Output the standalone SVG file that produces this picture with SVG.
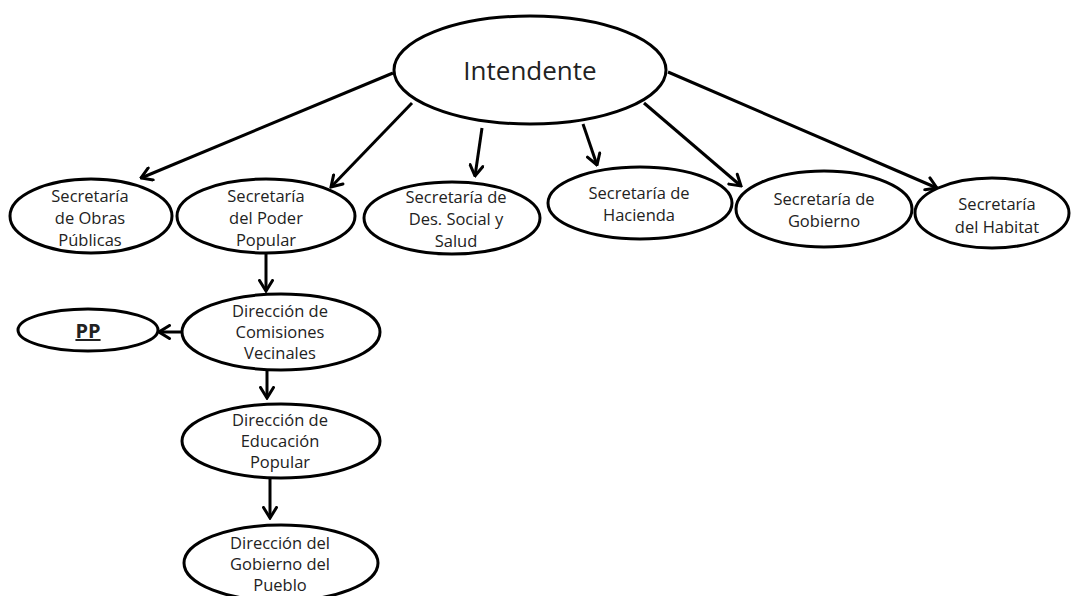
<svg xmlns="http://www.w3.org/2000/svg" width="1071" height="596" viewBox="0 0 1071 596">
<defs>
<style>
.n ellipse{fill:#fff;stroke:#000;stroke-width:3}
.n text{font-family:"Open Sans","Noto Sans",sans-serif;font-size:16.5px;fill:#222;text-anchor:middle}
.c line{stroke:#000;stroke-width:3;marker-end:url(#a)}
</style>
<marker id="a" viewBox="0 0 14 16" refX="12.5" refY="8" markerWidth="14" markerHeight="16" markerUnits="userSpaceOnUse" orient="auto">
<path d="M2,1.5 L12.5,8 L2,14.5" fill="none" stroke="#000" stroke-width="3" stroke-linecap="round" stroke-linejoin="miter"/>
</marker>
</defs>
<rect width="1071" height="596" fill="#fff"/>
<g class="c" id="connectors">
<line x1="393" y1="73" x2="141" y2="178"/>
<line x1="412" y1="103" x2="331" y2="187"/>
<line x1="482" y1="128" x2="475" y2="176"/>
<line x1="583" y1="124" x2="597" y2="165"/>
<line x1="644" y1="103" x2="741" y2="186"/>
<line x1="668" y1="72" x2="937" y2="188"/>
<line x1="266" y1="253" x2="266" y2="291"/>
<line x1="267" y1="370" x2="267" y2="398"/>
<line x1="270" y1="478" x2="270" y2="518"/>
<line x1="182" y1="332" x2="159" y2="332"/>
</g>
<g class="n" id="intendente">
<ellipse cx="530" cy="70" rx="136" ry="54"/>
<text x="530" y="80" style="font-size:26px">Intendente</text>
</g>
<g class="n" id="obras">
<ellipse cx="91" cy="216" rx="81" ry="37"/>
<text x="90" y="202">Secretaría</text>
<text x="90" y="224">de Obras</text>
<text x="90" y="246">Públicas</text>
</g>
<g class="n" id="poder">
<ellipse cx="266" cy="216" rx="89" ry="37"/>
<text x="266" y="202">Secretaría</text>
<text x="266" y="224">del Poder</text>
<text x="266" y="246">Popular</text>
</g>
<g class="n" id="social">
<ellipse cx="452" cy="218" rx="88" ry="36"/>
<text x="456" y="203">Secretaría de</text>
<text x="456" y="225">Des. Social y</text>
<text x="456" y="247">Salud</text>
</g>
<g class="n" id="hacienda">
<ellipse cx="640" cy="203" rx="92" ry="36"/>
<text x="639" y="199">Secretaría de</text>
<text x="639" y="221">Hacienda</text>
</g>
<g class="n" id="gobierno">
<ellipse cx="824" cy="209" rx="88" ry="38"/>
<text x="824" y="205">Secretaría de</text>
<text x="824" y="227">Gobierno</text>
</g>
<g class="n" id="habitat">
<ellipse cx="992" cy="213" rx="77" ry="35"/>
<text x="997" y="210">Secretaría</text>
<text x="997" y="233">del Habitat</text>
</g>
<g class="n" id="comisiones">
<ellipse cx="281" cy="332" rx="99" ry="38"/>
<text x="280" y="317">Dirección de</text>
<text x="280" y="338">Comisiones</text>
<text x="280" y="359">Vecinales</text>
</g>
<g class="n" id="pp">
<ellipse cx="88" cy="330" rx="70" ry="21"/>
<text x="88" y="338" style="font-weight:bold;font-size:20px;text-decoration:underline">PP</text>
</g>
<g class="n" id="educacion">
<ellipse cx="281" cy="441" rx="99" ry="37"/>
<text x="280" y="426">Dirección de</text>
<text x="280" y="447">Educación</text>
<text x="280" y="468">Popular</text>
</g>
<g class="n" id="pueblo">
<ellipse cx="281" cy="563" rx="97" ry="38"/>
<text x="280" y="549">Dirección del</text>
<text x="280" y="570">Gobierno del</text>
<text x="280" y="591">Pueblo</text>
</g>
</svg>
